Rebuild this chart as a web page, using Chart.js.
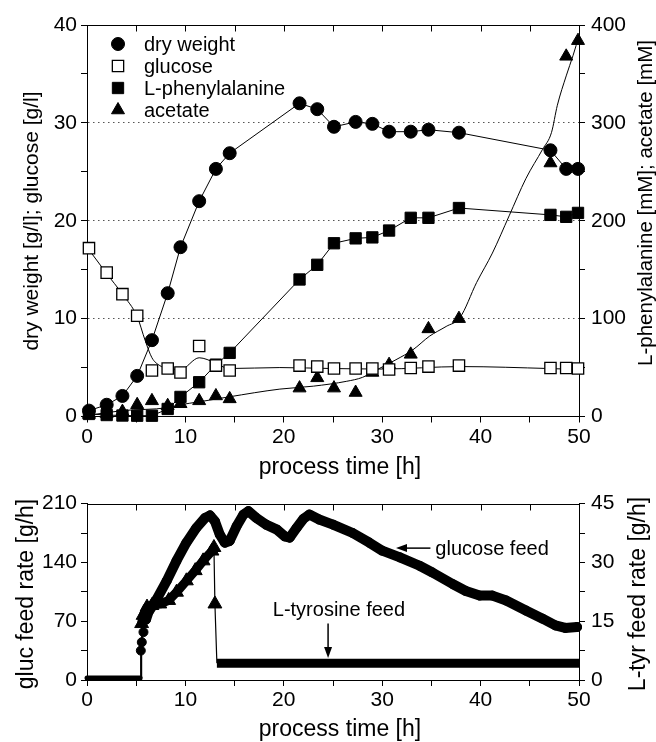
<!DOCTYPE html>
<html>
<head>
<meta charset="utf-8">
<script src="https://cdn.jsdelivr.net/npm/chart.js@4.4.0/dist/chart.umd.min.js"></script>
<style>
  html, body { margin: 0; padding: 0; background: #fff; }
  #wrap { position: relative; width: 656px; height: 742px; overflow: hidden; }
  canvas { position: absolute; left: 0; }
  #topChart { top: 0; }
  #feedChart { top: 485px; }
</style>
</head>
<body>
<div id="wrap">
  <canvas id="topChart" width="656" height="485"></canvas>
  <canvas id="feedChart" width="656" height="257"></canvas>
</div>
<script>
// ---- top panel: sampled values ----
var sampleTime = [0.2, 2.0, 3.6, 5.1, 6.6, 8.2, 9.5, 11.4, 13.1, 14.5, 21.6, 23.4, 25.1, 27.3, 29.0, 30.7, 32.9, 34.7, 37.8, 47.1, 48.7, 49.9];
var dryWeight = [0.6, 1.2, 2.1, 4.15, 7.8, 12.6, 17.3, 22.0, 25.3, 26.9, 32.0, 31.4, 29.6, 30.1, 29.9, 29.1, 29.1, 29.3, 29.0, 27.2, 25.3, 25.3];
var glucose = [17.2, 14.7, 12.5, 10.3, 4.7, 4.9, 4.5, 7.2, 5.2, 4.7, 5.2, 5.1, 4.9, 4.9, 4.9, 4.8, 4.95, 5.1, 5.2, 4.95, 4.95, 4.9];
var phenylalanine = [2.6, 1.5, 1, 0.8, 0.8, 7.7, 20, 35, 53, 65, 140, 155, 177, 182, 183, 190, 203, 203, 213, 206, 204, 208];
var acetate = [2, 3, 5, 12, 16, 11, 13, 16, 21, 18, 29, 39.5, 29, 24.5, 45, 53, 63.5, 89.5, 100, 259, 368, 384];

// fitted curves drawn through the data
var glucoseFitTime = [0, 2.0, 3.6, 5.1, 5.9, 6.6, 7.4, 8.2, 9.5, 11.4, 13.0, 14.4, 19.6, 25, 30, 38, 47, 50];
var glucoseFit = [17.3, 14.6, 12.5, 10.2, 7.8, 6.0, 5.2, 4.9, 4.8, 6.0, 5.5, 4.9, 5.0, 4.9, 4.85, 5.1, 4.9, 4.8];
var acetateFitTime = [0, 3.6, 8.2, 9.5, 11.4, 14.4, 19.6, 23.0, 26.4, 28.0, 29.7, 31.4, 33.1, 34.8, 36.5, 37.9, 39.6, 41.2, 42.9, 44.6, 46.3, 47.2, 47.8, 48.7, 49.4, 50];
var acetateFit = [1, 6, 9, 12, 15, 20, 28, 31, 36, 40, 49, 58, 68, 82, 92, 101, 137, 167, 205, 243, 273, 290, 318, 348, 369, 389];

// ---- bottom panel: feed rates ----
var feedTime = [0, 5.4, 5.47, 5.57, 5.74, 6.0, 6.25, 7.1, 8.1, 9.1, 10.1, 11.1, 12.0, 12.5, 13.0, 13.5, 14.0, 14.5, 15.2, 15.9, 16.4, 17.2, 18.2, 19.3, 20.1, 20.6, 21.3, 22.0, 22.6, 23.6, 25.0, 27.0, 28.7, 30.0, 31.8, 33.8, 35.1, 37.2, 38.5, 39.9, 41.2, 42.6, 44.6, 46.3, 47.6, 48.6, 49.8];
var glucoseFeed = [2.5, 2.5, 35, 45, 57, 72, 81, 96.5, 118, 142, 163.5, 181, 193, 196, 189, 173, 163.5, 165.5, 183, 197, 201, 193, 185, 179, 171, 169.5, 181, 192, 197, 191, 185, 175, 163.5, 154, 146, 136, 128, 114, 106, 100.5, 100.5, 94.6, 82.7, 73, 65, 62, 63];
var tyrTime = [0, 5.55, 5.55, 5.7, 6.1, 6.6, 7.4, 8.3, 9.1, 10.1, 11.0, 11.8, 12.7, 12.9, 13.0, 13.2, 50];
var tyrosineFeed = [0.5, 0.5, 14.4, 16.5, 18.6, 19.0, 19.4, 20.3, 22.4, 25.3, 27.9, 30.4, 32.9, 33.8, 19.4, 4.3, 4.3];

// tick labels
var timeLabels = [0, 10, 20, 30, 40, 50];
var dwLabels = [0, 10, 20, 30, 40];
var mMLabels = [0, 100, 200, 300, 400];
var glucFeedLabels = [0, 70, 140, 210];
var tyrFeedLabels = [0, 15, 30, 45];

var FONT = "'Liberation Sans', Arial, Helvetica, sans-serif";
Chart.defaults.font.family = FONT;
Chart.defaults.color = '#000';

function pts(xs, ys) {
    return xs.map(function (x, i) { return {x: x, y: ys[i]}; });
}
function hasLabel(list, v) {
    return list.some(function (l) { return Math.abs(l - v) < 1e-6; });
}

function xAxis(height) {
    return {
        type: 'linear', min: 0, max: 50,
        afterFit: function (s) { s.height = height; },
        ticks: {
            stepSize: 5, autoSkip: false, maxRotation: 0, padding: 2,
            font: {size: 21},
            callback: function (v) { return hasLabel(timeLabels, v) ? v : ''; }
        },
        grid: {drawOnChartArea: false, tickLength: 6, tickColor: '#000'},
        border: {color: '#000', width: 1}
    };
}

function yAxis(position, min, max, step, labels, width, dotted) {
    return {
        type: 'linear', position: position, min: min, max: max,
        afterFit: function (s) { s.width = width; },
        ticks: {
            stepSize: step, autoSkip: false, padding: position === 'left' ? 4 : 6,
            font: {size: 21},
            callback: function (v) { return hasLabel(labels, v) ? v : ''; }
        },
        grid: {
            drawOnChartArea: !!dotted, tickLength: 6, tickColor: '#000',
            color: function (c) {
                if (!dotted || !c.tick) return 'rgba(0,0,0,0)';
                var v = c.tick.value;
                return (v > min && v < max && hasLabel(labels, v)) ? '#555' : 'rgba(0,0,0,0)';
            }
        },
        border: {color: '#000', width: 1, dash: dotted ? [1.5, 3.5] : []}
    };
}

// top border line with inward ticks
var frameTicks = {
    id: 'frameTicks',
    afterDatasetsDraw: function (chart) {
        var ctx = chart.ctx, a = chart.chartArea, x = chart.scales.x;
        var top = Math.round(a.top) + 0.5;
        ctx.save();
        ctx.strokeStyle = '#000';
        ctx.lineWidth = 1;
        ctx.beginPath();
        ctx.moveTo(a.left, top);
        ctx.lineTo(a.right, top);
        x.ticks.forEach(function (t) {
            if (t.value <= x.min || t.value >= x.max) return;
            var px = Math.round(x.getPixelForValue(t.value)) + 0.5;
            ctx.moveTo(px, top);
            ctx.lineTo(px, top + 6);
        });
        ctx.stroke();
        ctx.restore();
    }
};

// axis titles (right titles read bottom-to-top like the left ones)
var axisTitles = {
    id: 'axisTitles',
    afterDraw: function (chart, args, opts) {
        var ctx = chart.ctx;
        (opts.items || []).forEach(function (it) {
            ctx.save();
            ctx.font = it.size + 'px ' + FONT;
            ctx.fillStyle = '#000';
            ctx.textAlign = 'center';
            ctx.textBaseline = 'middle';
            ctx.translate(it.x, it.y);
            if (it.rotate) ctx.rotate(-Math.PI / 2);
            ctx.fillText(it.text, 0, 0);
            ctx.restore();
        });
    }
};

function drawMarker(ctx, style, r, fill, bw, x, y) {
    ctx.beginPath();
    if (style === 'circle') {
        ctx.arc(x, y, r, 0, Math.PI * 2);
    } else if (style === 'rect') {
        var h = r * Math.SQRT1_2;
        ctx.rect(x - h, y - h, 2 * h, 2 * h);
    } else if (style === 'triangle') {
        ctx.moveTo(x, y - r);
        ctx.lineTo(x + r * Math.sin(Math.PI * 2 / 3), y - r * Math.cos(Math.PI * 2 / 3));
        ctx.lineTo(x - r * Math.sin(Math.PI * 2 / 3), y - r * Math.cos(Math.PI * 2 / 3));
        ctx.closePath();
    }
    ctx.fillStyle = fill;
    ctx.fill();
    ctx.lineWidth = bw;
    ctx.strokeStyle = '#000';
    ctx.stroke();
}

// legend in the upper left of the plot
var markerLegend = {
    id: 'markerLegend',
    afterDraw: function (chart, args, opts) {
        var ctx = chart.ctx, a = chart.chartArea, row = 0;
        chart.data.datasets.forEach(function (ds) {
            if (!ds.label) return;
            var x = a.left + opts.left, y = a.top + opts.top + row * opts.step;
            ctx.save();
            drawMarker(ctx, ds.pointStyle, ds.pointRadius, ds.pointBackgroundColor, ds.pointBorderWidth, x, y);
            ctx.font = '20px ' + FONT;
            ctx.fillStyle = '#000';
            ctx.textAlign = 'left';
            ctx.textBaseline = 'middle';
            ctx.fillText(ds.label, x + opts.gap, y + 1);
            ctx.restore();
            row++;
        });
    }
};

var topChart = new Chart(document.getElementById('topChart'), {
    type: 'line',
    data: {
        datasets: [
            {
                label: 'dry weight', data: pts(sampleTime, dryWeight), yAxisID: 'y',
                borderColor: '#000', borderWidth: 1,
                pointStyle: 'circle', pointRadius: 6.5, pointBackgroundColor: '#000',
                pointBorderColor: '#000', pointBorderWidth: 1, clip: false, order: 0
            },
            {
                label: 'glucose', data: pts(sampleTime, glucose), yAxisID: 'y', showLine: false,
                pointStyle: 'rect', pointRadius: 8, pointBackgroundColor: '#fff',
                pointBorderColor: '#000', pointBorderWidth: 1.3, clip: false, order: 0
            },
            {
                label: 'L-phenylalanine', data: pts(sampleTime, phenylalanine), yAxisID: 'y2',
                borderColor: '#000', borderWidth: 1,
                pointStyle: 'rect', pointRadius: 8, pointBackgroundColor: '#000',
                pointBorderColor: '#000', pointBorderWidth: 1, clip: false, order: 0
            },
            {
                label: 'acetate', data: pts(sampleTime, acetate), yAxisID: 'y2', showLine: false,
                pointStyle: 'triangle', pointRadius: 7.5, pointBackgroundColor: '#000',
                pointBorderColor: '#000', pointBorderWidth: 1, clip: false, order: 0
            },
            {
                data: pts(glucoseFitTime, glucoseFit), yAxisID: 'y', borderColor: '#000',
                borderWidth: 1, pointRadius: 0, cubicInterpolationMode: 'monotone', order: 1
            },
            {
                data: pts(acetateFitTime, acetateFit), yAxisID: 'y2', borderColor: '#000',
                borderWidth: 1, pointRadius: 0, cubicInterpolationMode: 'monotone', order: 1
            }
        ]
    },
    options: {
        responsive: false, animation: false, devicePixelRatio: 1, events: [],
        layout: {padding: {top: 25, left: 0, right: 0, bottom: 0}},
        scales: {
            x: xAxis(68.5),
            y: yAxis('left', 0, 40, 5, dwLabels, 87, true),
            y2: yAxis('right', 0, 400, 50, mMLabels, 77, false)
        },
        plugins: {
            legend: {display: false},
            tooltip: {enabled: false},
            markerLegend: {left: 31, top: 19, step: 22, gap: 26},
            axisTitles: {items: [
                {text: 'dry weight [g/l]; glucose [g/l]', x: 32, y: 221, size: 21, rotate: true},
                {text: 'L-phenylalanine [mM]; acetate [mM]', x: 646, y: 203, size: 20.5, rotate: true},
                {text: 'process time [h]', x: 340, y: 468, size: 23}
            ]}
        }
    },
    plugins: [frameTicks, axisTitles, markerLegend]
});

// arrows and labels for the feed curves
function arrow(ctx, x1, y1, x2, y2) {
    var ang = Math.atan2(y2 - y1, x2 - x1), len = 11, hw = 4;
    ctx.beginPath();
    ctx.moveTo(x1, y1);
    ctx.lineTo(x2 - Math.cos(ang) * len, y2 - Math.sin(ang) * len);
    ctx.stroke();
    ctx.beginPath();
    ctx.moveTo(x2, y2);
    ctx.lineTo(x2 - Math.cos(ang) * len - Math.sin(ang) * hw, y2 - Math.sin(ang) * len + Math.cos(ang) * hw);
    ctx.lineTo(x2 - Math.cos(ang) * len + Math.sin(ang) * hw, y2 - Math.sin(ang) * len - Math.cos(ang) * hw);
    ctx.closePath();
    ctx.fill();
}

var feedNotes = {
    id: 'feedNotes',
    afterDraw: function (chart) {
        var ctx = chart.ctx, x = chart.scales.x, y = chart.scales.y, y2 = chart.scales.y2;
        ctx.save();
        ctx.fillStyle = '#000';
        ctx.strokeStyle = '#000';
        ctx.lineWidth = 1.5;
        ctx.font = '20px ' + FONT;
        ctx.textBaseline = 'middle';
        // glucose feed
        var gy = y.getPixelForValue(157);
        arrow(ctx, x.getPixelForValue(34.9), gy, x.getPixelForValue(31.4), gy);
        ctx.textAlign = 'left';
        ctx.fillText('glucose feed', x.getPixelForValue(35.4), gy + 1);
        // L-tyrosine feed
        var tx = x.getPixelForValue(24.5);
        arrow(ctx, tx, y2.getPixelForValue(14.4), tx, y2.getPixelForValue(5.6));
        ctx.textAlign = 'center';
        ctx.fillText('L-tyrosine feed', x.getPixelForValue(25.6), y2.getPixelForValue(17.7));
        ctx.restore();
    }
};

var feedChart = new Chart(document.getElementById('feedChart'), {
    type: 'line',
    data: {
        datasets: [
            {
                label: 'glucose feed', data: pts(feedTime, glucoseFeed), yAxisID: 'y',
                borderColor: '#000', borderJoinStyle: 'round', borderCapStyle: 'round',
                segment: {
                    borderWidth: function (c) {
                        var t1 = feedTime[c.p1DataIndex];
                        if (t1 <= 5.4) return 5;
                        if (t1 <= 6.0) return 1.5;
                        return 10;
                    }
                },
                pointStyle: 'circle',
                pointRadius: function (c) { return feedTime[c.dataIndex] > 5.4 ? 4.5 : 0; },
                pointBackgroundColor: '#000', pointBorderColor: '#000', pointBorderWidth: 1,
                clip: false
            },
            {
                label: 'L-tyrosine feed', data: pts(tyrTime, tyrosineFeed), yAxisID: 'y2',
                borderColor: '#000', borderJoinStyle: 'round',
                segment: {
                    borderWidth: function (c) {
                        var i0 = c.p0DataIndex, i1 = c.p1DataIndex;
                        var v0 = tyrosineFeed[i0], v1 = tyrosineFeed[i1];
                        if (v0 < 1 && v1 < 1) return 4;
                        if (v0 > 10 && v1 > 10 && tyrTime[i1] < 12.95) return 9;
                        if (v0 < 5 && v1 < 5 && tyrTime[i0] > 13) return 9;
                        return 1.2;
                    }
                },
                pointStyle: 'triangle',
                pointRadius: function (c) { return tyrosineFeed[c.dataIndex] > 10 ? 8 : 0; },
                pointBackgroundColor: '#000', pointBorderColor: '#000', pointBorderWidth: 1,
                clip: false
            }
        ]
    },
    options: {
        responsive: false, animation: false, devicePixelRatio: 1, events: [],
        layout: {padding: {top: 17.3, left: 0, right: 0, bottom: 0}},
        scales: {
            x: xAxis(62),
            y: yAxis('left', 0, 210, 35, glucFeedLabels, 87, false),
            y2: yAxis('right', 0, 45, 7.5, tyrFeedLabels, 77, false)
        },
        plugins: {
            legend: {display: false},
            tooltip: {enabled: false},
            axisTitles: {items: [
                {text: 'gluc feed rate [g/h]', x: 27, y: 109, size: 23, rotate: true},
                {text: 'L-tyr feed rate [g/h]', x: 639, y: 109, size: 23, rotate: true},
                {text: 'process time [h]', x: 340, y: 245, size: 23}
            ]}
        }
    },
    plugins: [frameTicks, axisTitles, feedNotes]
});
</script>
</body>
</html>
